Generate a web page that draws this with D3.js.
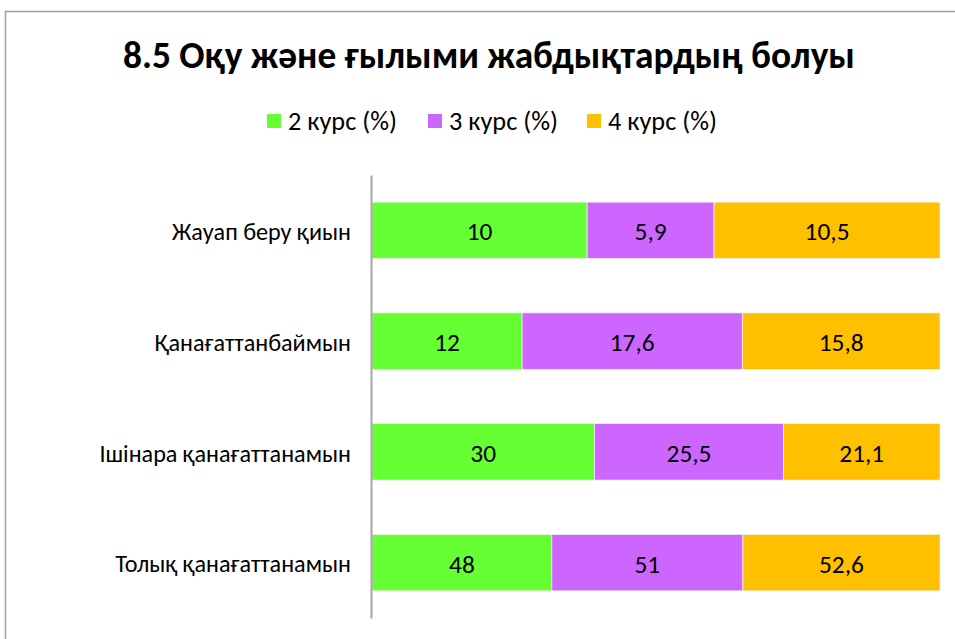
<!DOCTYPE html>
<html><head><meta charset="utf-8">
<script src="https://cdn.jsdelivr.net/npm/d3@7"></script>
<style>html,body{margin:0;padding:0;background:#fff;}svg{display:block;}</style>
</head><body>
<script>
const categories = ["Жауап беру қиын", "Қанағаттанбаймын", "Ішінара қанағаттанамын", "Толық қанағаттанамын"];
const seriesNames = ["2 курс (%)", "3 курс (%)", "4 курс (%)"];
const course2 = [10, 12, 30, 48];
const course3 = [5.9, 17.6, 25.5, 51];
const course4 = [10.5, 15.8, 21.1, 52.6];
const colors = ["#66FF33", "#CC66FF", "#FFC000"];
const title = "8.5 Оқу және ғылыми жабдықтардың болуы";

const W = 955, H = 639;
const font = "Carlito, Calibri, Lato, sans-serif";
const svg = d3.select("body").append("svg").attr("width", W).attr("height", H);

function fit(sel, size, target) {
  sel.attr("font-size", size);
  const w = sel.node().getComputedTextLength();
  sel.attr("font-size", size * target / w);
  return size * target / w;
}

// chart border (extends beyond view)
svg.append("rect").attr("x", 5.5).attr("y", 11.5).attr("width", 1000).attr("height", 1000)
  .attr("fill", "#fff").attr("stroke", "#9E9E9E").attr("stroke-width", 1.5);

// title fitted
const t = svg.append("text").attr("x", 489).attr("y", 68).attr("text-anchor", "middle")
  .attr("font-family", font).attr("font-weight", "bold").attr("fill", "#000").text(title);
fit(t, 30, 732);

const keys = ["c2", "c3", "c4"];
const rows = categories.map((c, i) => ({cat: c, c2: course2[i], c3: course3[i], c4: course4[i]}));
const stacked = d3.stack().keys(keys).offset(d3.stackOffsetExpand)(rows);

const x = d3.scaleLinear().domain([0, 1]).range([372, 940]);
const y = d3.scaleBand().domain(categories).range([175, 618]).paddingInner(0.49).paddingOuter(0.245);

// measure data label size
const probe = svg.append("text").attr("font-family", font).text("52,6");
const dfs = fit(probe, 20, 45);
probe.remove();

const g = svg.append("g");
stacked.forEach((layer, li) => {
  const key = keys[li];
  const gg = g.append("g");
  gg.selectAll("rect").data(layer).join("rect")
    .attr("x", d => x(d[0])).attr("width", d => x(d[1]) - x(d[0]))
    .attr("y", d => y(d.data.cat)).attr("height", y.bandwidth())
    .attr("fill", colors[li]).attr("stroke", "#F2F2F2").attr("stroke-width", 0.75);
  gg.selectAll("text").data(layer).join("text")
    .attr("x", d => (x(d[0]) + x(d[1])) / 2)
    .attr("y", d => y(d.data.cat) + y.bandwidth() / 2 + 10)
    .attr("text-anchor", "middle").attr("font-family", font).attr("font-size", dfs).attr("fill", "#000")
    .text(d => String(d.data[key]).replace(".", ","));
});

// y axis
const yAxis = d3.axisLeft(y).tickSize(0).tickPadding(20);
const ax = svg.append("g").attr("transform", "translate(371,0)").call(yAxis);
ax.select(".domain").attr("stroke", "#A6A6A6").attr("stroke-width", 2);
ax.selectAll(".tick text").attr("font-family", font).attr("fill", "#000").attr("dy", "0.4em");
const lbl = ax.selectAll(".tick text").filter(d => d === "Толық қанағаттанамын");
const fs = fit(lbl, 20, 236);
ax.selectAll(".tick text").attr("font-size", fs);

// legend
const legX = [267, 428, 587];
let lfs = null;
seriesNames.forEach((n, i) => {
  svg.append("rect").attr("x", legX[i]).attr("y", 114).attr("width", 14).attr("height", 14).attr("fill", colors[i]);
  const tx = svg.append("text").attr("x", legX[i] + 21).attr("y", 130).attr("font-family", font)
    .attr("fill", "#000").text(n);
  if (lfs === null) lfs = fit(tx, 20, 109); else tx.attr("font-size", lfs);
});
</script>
</body></html>
